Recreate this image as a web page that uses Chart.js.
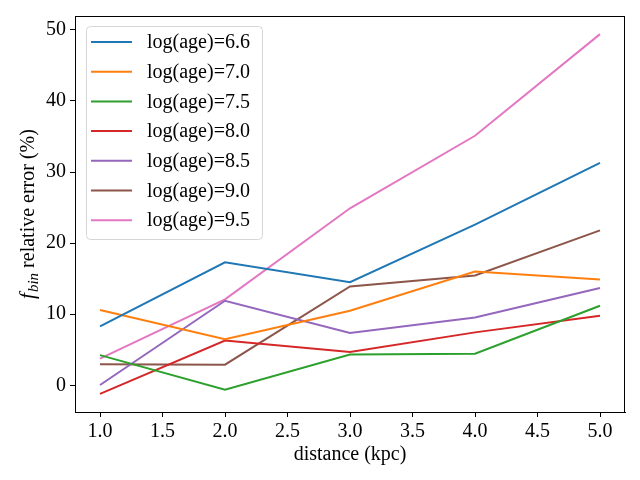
<!DOCTYPE html>
<html>
<head>
<meta charset="utf-8">
<script src="https://cdn.jsdelivr.net/npm/chart.js@4.4.0/dist/chart.umd.min.js"></script>
<style>
  html, body { margin: 0; padding: 0; background: #fff; }
  #wrap { width: 640px; height: 480px; }
</style>
</head>
<body>
<div id="wrap"><canvas id="chart" width="640" height="480"></canvas></div>
<script>
// ── data ────────────────────────────────────────────────────
const distances = [1, 2, 3, 4, 5];
const ageLabels = ['log(age)=6.6', 'log(age)=7.0', 'log(age)=7.5', 'log(age)=8.0',
                   'log(age)=8.5', 'log(age)=9.0', 'log(age)=9.5'];
const err66 = [8.3, 17.3, 14.5, 22.6, 31.3];
const err70 = [10.6, 6.5, 10.5, 16.0, 14.9];
const err75 = [4.25, -0.6, 4.35, 4.45, 11.2];
const err80 = [-1.2, 6.3, 4.7, 7.45, 9.8];
const err85 = [0.05, 11.9, 7.35, 9.55, 13.7];
const err90 = [2.95, 2.9, 13.9, 15.45, 21.8];
const err95 = [3.75, 12.1, 24.9, 35.1, 49.4];
const xTicks = [1.0, 1.5, 2.0, 2.5, 3.0, 3.5, 4.0, 4.5, 5.0];
const yTicks = [0, 10, 20, 30, 40, 50];

const seriesValues = [err66, err70, err75, err80, err85, err90, err95];
const colors = ['#1f77b4', '#ff7f0e', '#2ca02c', '#d62728', '#9467bd', '#8c564b', '#e377c2'];

const FONT = '"Liberation Serif", "DejaVu Serif", serif';
const FSIZE = 20;

// legend drawn inside the plot, matplotlib style
const insideLegend = {
  id: 'insideLegend',
  afterDatasetsDraw(chart) {
    const { ctx, chartArea } = chart;
    const x0 = chartArea.left + 11, y0 = chartArea.top + 10;
    const w = 176, h = 213, r = 4;
    ctx.save();
    ctx.beginPath();
    ctx.roundRect(x0 + 0.5, y0 + 0.5, w, h, r);
    ctx.fillStyle = 'rgba(255,255,255,0.8)';
    ctx.fill();
    ctx.strokeStyle = '#d6d6d6';
    ctx.lineWidth = 1;
    ctx.stroke();
    ctx.font = `${FSIZE}px ${FONT}`;
    ctx.textBaseline = 'middle';
    ctx.fillStyle = '#000';
    chart.data.datasets.forEach((ds, i) => {
      const y = y0 + 16 + i * 29.7;
      ctx.beginPath();
      ctx.moveTo(x0 + 5, y);
      ctx.lineTo(x0 + 46, y);
      ctx.strokeStyle = ds.borderColor;
      ctx.lineWidth = 2;
      ctx.stroke();
      ctx.fillText(ds.label, x0 + 61, y + 1);
    });
    ctx.restore();
  }
};

// full frame + y title with italic f and subscript
const frameAndTitle = {
  id: 'frameAndTitle',
  afterDraw(chart) {
    const { ctx, chartArea } = chart;
    ctx.save();
    ctx.strokeStyle = '#000';
    ctx.lineWidth = 1;
    ctx.strokeRect(chartArea.left + 0.5, chartArea.top + 0.5,
                   chartArea.right - chartArea.left - 1, chartArea.bottom - chartArea.top);

    const cy = (chartArea.top + chartArea.bottom) / 2;
    ctx.translate(27, cy);
    ctx.rotate(-Math.PI / 2);
    ctx.fillStyle = '#000';
    ctx.textBaseline = 'alphabetic';
    const fMain = `italic ${FSIZE + 1}px ${FONT}`;
    const fSub = `italic ${FSIZE - 5}px ${FONT}`;
    const fText = `${FSIZE}px ${FONT}`;
    const rest = ' relative error (%)';
    ctx.font = fMain; const w1 = ctx.measureText('f').width + 1;
    ctx.font = fSub; const w2 = ctx.measureText('bin').width;
    ctx.font = fText; const w3 = ctx.measureText(rest).width;
    let x = -(w1 + w2 + w3) / 2;
    const base = 7;
    ctx.font = fMain; ctx.fillText('f', x, base); x += w1;
    ctx.font = fSub; ctx.fillText('bin', x, base + 4); x += w2;
    ctx.font = fText; ctx.fillText(rest, x, base);
    ctx.restore();
  }
};

new Chart(document.getElementById('chart'), {
  type: 'line',
  data: {
    datasets: seriesValues.map((vals, i) => ({
      label: ageLabels[i],
      data: distances.map((d, j) => ({ x: d, y: vals[j] })),
      borderColor: colors[i],
      backgroundColor: colors[i],
      borderWidth: 2,
      pointRadius: 0,
      tension: 0,
      fill: false
    }))
  },
  options: {
    responsive: false,
    devicePixelRatio: 1,
    animation: false,
    layout: { padding: { top: 15, right: 15, left: 0, bottom: 0 } },
    plugins: {
      legend: { display: false },
      tooltip: { enabled: false }
    },
    scales: {
      x: {
        type: 'linear',
        min: 0.8,
        max: 5.2,
        afterBuildTicks: s => { s.ticks = xTicks.map(v => ({ value: v })); },
        afterFit: s => { s.height = 68; },
        grid: { drawOnChartArea: false, drawTicks: true, tickLength: 5, tickColor: '#000' },
        border: { display: true, color: '#000' },
        ticks: {
          color: '#000', padding: 3, maxRotation: 0,
          font: { family: FONT, size: FSIZE },
          callback: v => Number(v).toFixed(1)
        },
        title: {
          display: true, text: 'distance (kpc)', color: '#000',
          font: { family: FONT, size: FSIZE }, padding: { top: 4, bottom: 13 }
        }
      },
      y: {
        type: 'linear',
        min: -3.75,
        max: 51.95,
        afterBuildTicks: s => { s.ticks = yTicks.map(v => ({ value: v })); },
        afterFit: s => { s.width = 75; },
        grid: { drawOnChartArea: false, drawTicks: true, tickLength: 5, tickColor: '#000' },
        border: { display: true, color: '#000' },
        ticks: {
          color: '#000', padding: 4,
          font: { family: FONT, size: FSIZE },
          callback: v => String(v)
        }
      }
    }
  },
  plugins: [insideLegend, frameAndTitle]
});
</script>
</body>
</html>
